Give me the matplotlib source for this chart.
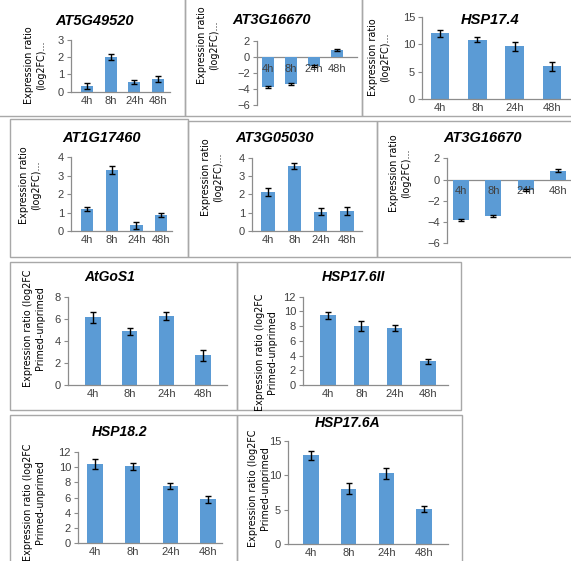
import matplotlib
matplotlib.use('Agg')
import matplotlib.pyplot as plt
from matplotlib.patches import Rectangle
import numpy as np

W, H = 571, 561

times = ['4h', '8h', '24h', '48h']

at5g49520 = [0.33, 2.0, 0.55, 0.72]
at5g49520_err = [0.15, 0.17, 0.13, 0.17]
at3g16670_a = [-3.8, -3.4, -1.2, 0.85]
at3g16670_a_err = [0.15, 0.15, 0.12, 0.12]
hsp17_4 = [12.0, 10.8, 9.6, 6.0]
hsp17_4_err = [0.6, 0.45, 0.75, 0.85]
at1g17460 = [1.2, 3.3, 0.3, 0.85]
at1g17460_err = [0.1, 0.22, 0.17, 0.1]
at3g05030 = [2.15, 3.55, 1.05, 1.1]
at3g05030_err = [0.22, 0.15, 0.2, 0.22]
at3g16670_b = [-3.8, -3.45, -1.0, 0.85]
at3g16670_b_err = [0.12, 0.1, 0.1, 0.12]
atgos1 = [6.15, 4.85, 6.25, 2.7]
atgos1_err = [0.5, 0.35, 0.4, 0.5]
hsp17_6ii = [9.45, 8.05, 7.7, 3.2]
hsp17_6ii_err = [0.5, 0.65, 0.4, 0.4]
hsp18_2 = [10.4, 10.1, 7.45, 5.75]
hsp18_2_err = [0.65, 0.45, 0.4, 0.5]
hsp17_6a = [12.9, 8.1, 10.3, 5.1]
hsp17_6a_err = [0.6, 0.8, 0.8, 0.4]

lab_short = 'Expression ratio\n(log2FC)...'
lab_long = 'Expression ratio (log2FC\nPrimed-unprimed'

BLUE = '#5B9BD5'
GREY = '#8C8C8C'
TXT = '#404040'
NARROW = ['Liberation Sans Narrow', 'DejaVu Sans']

fig = plt.figure(figsize=(W / 100, H / 100), dpi=100)


def px(x, y):
    return x / W, 1 - y / H


# panel frames (pixels: left, top, right, bottom)
frames = [(-2, -2, 185, 116), (185, -2, 362, 116), (362, -2, 573, 116),
          (10, 119, 188, 257), (188, 121, 377, 257), (377, 121, 573, 257),
          (10, 262, 237, 410), (237, 262, 461, 410),
          (10, 415, 237, 563), (237, 415, 462, 563)]
for l, t, r, b in frames:
    fig.patches.append(Rectangle((l / W, 1 - b / H), (r - l) / W, (b - t) / H,
                                 transform=fig.transFigure, fill=False,
                                 edgecolor='#A8A8A8', lw=1))

# title, values, errors, ylabel, layout (L, R, c0, c3, ytop, ybot), y range, title pos, label pos
panels = [
    ('AT5G49520', at5g49520, at5g49520_err, lab_short, (71, 170, 87, 158, 40, 91.7), (0, 3, 1), (95, 21), (35, 65), 10.5, 0.5),
    ('AT3G16670', at3g16670_a, at3g16670_a_err, lab_short, (257, 357, 268, 337, 40.7, 104.7), (-6, 2, 2), (272, 20), (208, 45), 10.5, 0.5),
    ('HSP17.4', hsp17_4, hsp17_4_err, lab_short, (422, 575, 440, 552, 16.7, 99.3), (0, 15, 5), (490, 20), (379, 57), 10.5, 0.5),
    ('AT1G17460', at1g17460, at1g17460_err, lab_short, (71, 172, 87, 161, 157.3, 231), (0, 4, 1), (102, 138), (30, 185), 10.5, 0.5),
    ('AT3G05030', at3g05030, at3g05030_err, lab_short, (252, 362, 268, 347, 157.7, 231), (0, 4, 1), (275, 138), (212, 177), 10.5, 0.5),
    ('AT3G16670', at3g16670_b, at3g16670_b_err, lab_short, (447, 580, 461, 558, 158.3, 243.3), (-6, 2, 2), (483, 138), (400, 173), 10.5, 0.5),
    ('AtGoS1', atgos1, atgos1_err, lab_long, (68, 227, 93, 203, 296.7, 385), (0, 8, 2), (110, 277), (34, 328), 10, 0.42),
    ('HSP17.6II', hsp17_6ii, hsp17_6ii_err, lab_long, (303, 448, 328, 428, 296.7, 385), (0, 12, 2), (353, 277), (266, 352), 10, 0.42),
    ('HSP18.2', hsp18_2, hsp18_2_err, lab_long, (78, 222, 95, 208, 451.7, 543.3), (0, 12, 2), (120, 432), (34, 502), 10, 0.42),
    ('HSP17.6A', hsp17_6a, hsp17_6a_err, lab_long, (288, 448, 311, 424, 441, 544.3), (0, 15, 5), (348, 423), (259, 488), 10, 0.42),
]

for title, vals, errs, ylab, (L, R, c0, c3, yt, yb), (lo, hi, st), tpos, lpos, tsize, bw in panels:
    x0, y0 = px(L, yb)
    ax = fig.add_axes([x0, y0, (R - L) / W, (yb - yt) / H])
    ax.patch.set_alpha(0)
    ax.set_axisbelow(False)
    ppu = (c3 - c0) / 3
    ax.set_xlim(-(c0 - L) / ppu, 3 + (R - c3) / ppu)
    ax.set_ylim(lo, hi)
    xs = np.arange(len(times))
    ax.bar(xs, vals, width=bw * 37 / ppu if bw < 0.5 else bw, color=BLUE, zorder=2)
    ax.errorbar(xs, vals, yerr=errs, fmt='none', ecolor='black', elinewidth=1,
                capsize=2.5, capthick=1, zorder=3)
    ax.set_yticks(np.arange(lo, hi + 0.01, st))
    ax.set_xticks(xs)
    ax.set_xticklabels(times)
    for s in ['top', 'right']:
        ax.spines[s].set_visible(False)
    for s in ['left', 'bottom']:
        ax.spines[s].set_color(GREY)
        ax.spines[s].set_linewidth(0.9)
    xpad = 3
    if lo < 0:
        ax.spines['bottom'].set_position(('data', 0))
        ax.spines['bottom'].set_zorder(1)
        xpad = 5
    ax.tick_params(axis='y', length=3, color=GREY, labelsize=8, labelcolor=TXT, pad=2)
    ax.tick_params(axis='x', length=0, labelsize=8, labelcolor=TXT, pad=xpad)
    for t in ax.get_xticklabels() + ax.get_yticklabels():
        t.set_family(['Liberation Sans', 'DejaVu Sans'])
    tx, ty = px(*tpos)
    fig.text(tx, ty, title, ha='center', va='center', fontsize=tsize,
             fontweight='bold', fontstyle='italic', family=['Liberation Sans', 'DejaVu Sans'],
             color='black')
    lx, ly = px(*lpos)
    fig.text(lx, ly, ylab, ha='center', va='center', rotation=90, fontsize=6.9,
             family=NARROW, color='black', multialignment='center', linespacing=1.2)

fig.savefig('out.png', dpi=100, facecolor='white')
